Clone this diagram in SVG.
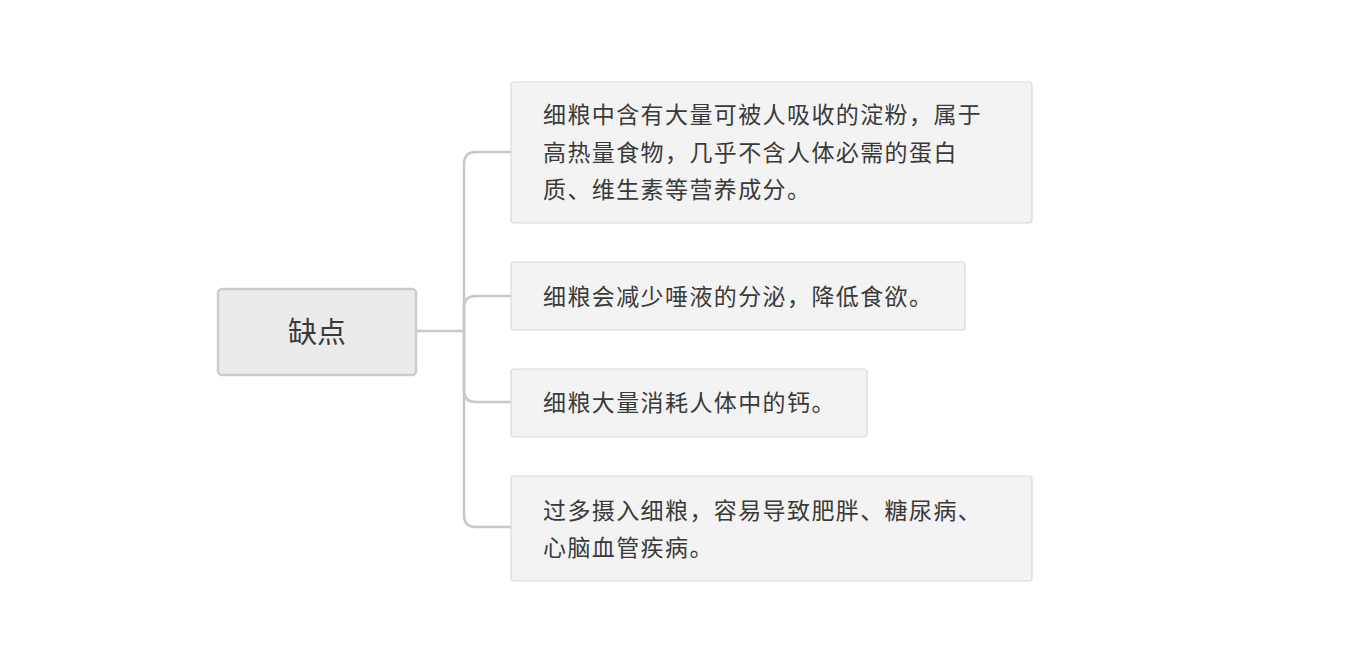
<svg xmlns="http://www.w3.org/2000/svg" width="1348" height="668" viewBox="0 0 1348 668">
<style>
.root{fill:#ebebeb;stroke:#cccccc;stroke-width:2.5}
.box{fill:#f3f3f3;stroke:#d9d9d9;stroke-width:1.2}
.t{font-family:"Noto Sans CJK SC","Noto Sans",sans-serif;fill:#3a3a3a;font-size:23px;letter-spacing:1.4px;dominant-baseline:central}
.rt{font-family:"Noto Sans CJK SC","Noto Sans",sans-serif;fill:#3a3a3a;font-size:29px;text-anchor:middle;dominant-baseline:central}
.c{fill:none;stroke:#c8c8c8;stroke-width:2.5}
</style>
<rect width="1348" height="668" fill="#ffffff"/>
<g id="connectors">
<path class="c" d="M417,331 H464"/>
<path class="c" d="M511,152 H476 Q464,152 464,164 V515 Q464,527 476,527 H511"/>
<path class="c" d="M511,296 H476 Q464,296 464,308 V390 Q464,402 476,402 H511"/>
</g>
<g id="root">
<rect class="root" x="218" y="289" width="198" height="86" rx="4"/>
<text class="rt" x="317" y="330">缺点</text>
</g>
<g id="n1">
<rect class="box" x="511" y="82" width="521" height="141" rx="3"/>
<text class="t" x="543" y="113">细粮中含有大量可被人吸收的淀粉，属于</text>
<text class="t" x="543" y="151">高热量食物，几乎不含人体必需的蛋白</text>
<text class="t" x="543" y="188">质、维生素等营养成分。</text>
</g>
<g id="n2">
<rect class="box" x="511" y="262" width="454" height="68" rx="3"/>
<text class="t" x="543" y="295">细粮会减少唾液的分泌，降低食欲。</text>
</g>
<g id="n3">
<rect class="box" x="511" y="369" width="356" height="68" rx="3"/>
<text class="t" x="543" y="401">细粮大量消耗人体中的钙。</text>
</g>
<g id="n4">
<rect class="box" x="511" y="476" width="521" height="105" rx="3"/>
<text class="t" x="543" y="509">过多摄入细粮，容易导致肥胖、糖尿病、</text>
<text class="t" x="543" y="546">心脑血管疾病。</text>
</g>
</svg>
